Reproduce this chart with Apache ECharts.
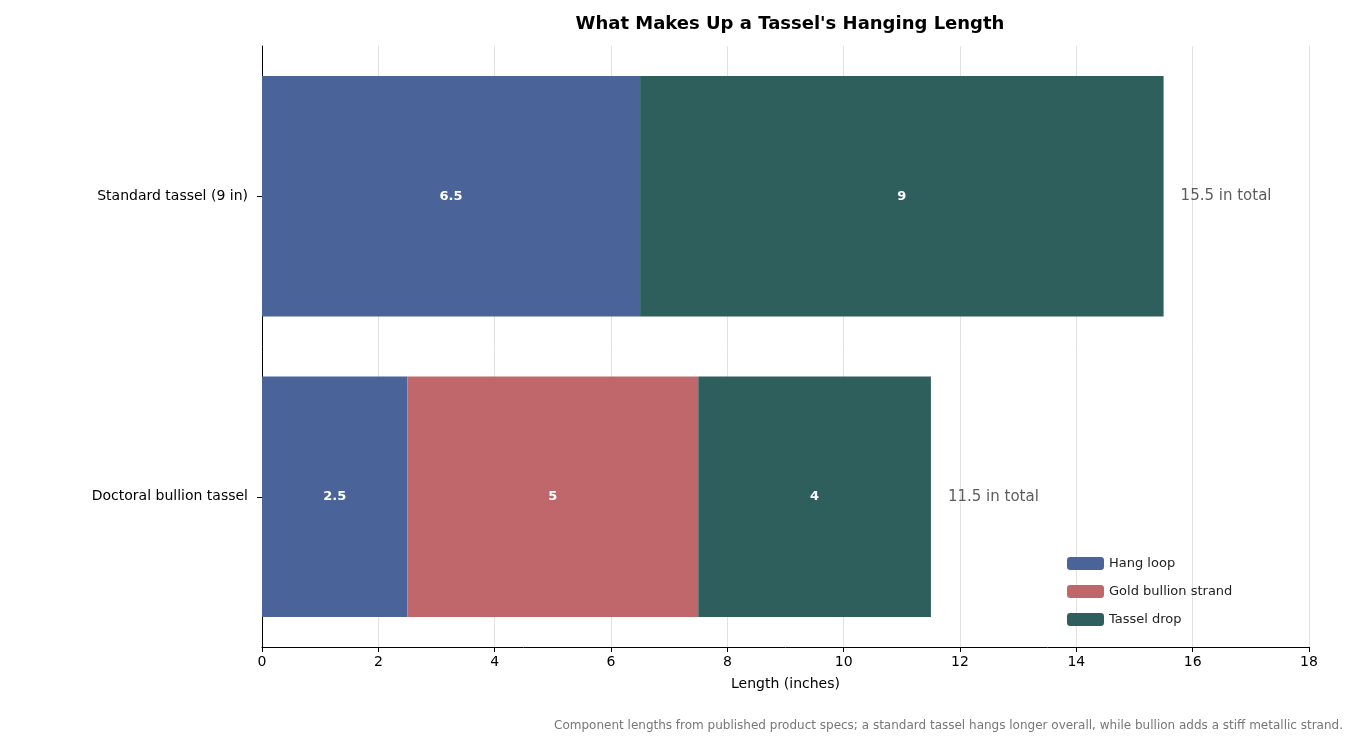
<!DOCTYPE html>
<html><head><meta charset="utf-8">
<script src="https://cdn.jsdelivr.net/npm/echarts@6/dist/echarts.min.js"></script>
<style>html,body{margin:0;padding:0;background:#fff}#c{width:1362px;height:748px}</style>
</head><body><div id="c"></div>
<script>
const categories = ['Doctoral bullion tassel', 'Standard tassel (9 in)'];
const hangLoop = [2.5, 6.5];
const goldStrand = [5, null];
const tasselDrop = [4, 9];
const totals = [11.5, 15.5];
const xTicks = [0, 2, 4, 6, 8, 10, 12, 14, 16, 18];

const chart = echarts.init(document.getElementById('c'));
const inLabel = {show: true, position: 'inside', color: '#fff', fontWeight: 'bold', fontSize: 13, fontFamily: 'DejaVu Sans'};
chart.setOption({
  animation: false,
  textStyle: {fontFamily: 'DejaVu Sans'},
  title: [{text: "What Makes Up a Tassel's Hanging Length", left: 785, top: 10, textAlign: 'center',
    textStyle: {fontSize: 18, fontWeight: 'bold', color: '#000', fontFamily: 'DejaVu Sans'}},
    {text: 'Component lengths from published product specs; a standard tassel hangs longer overall, while bullion adds a stiff metallic strand.',
    right: 14, top: 715, textStyle: {fontSize: 12, fontWeight: 'normal', color: '#777', fontFamily: 'DejaVu Sans'}}],
  grid: {left: 262, right: 53, top: 46, bottom: 101},
  legend: {orient: 'vertical', left: 1062, top: 552, itemWidth: 37, itemHeight: 13, itemGap: 15,
    data: ['Hang loop', 'Gold bullion strand', 'Tassel drop'],
    textStyle: {fontSize: 13, color: '#222'}},
  xAxis: {type: 'value', min: 0, max: 18, interval: 2,
    name: 'Length (inches)', nameLocation: 'middle', nameGap: 30, nameTextStyle: {fontSize: 14, color: '#000'},
    axisLine: {show: true, lineStyle: {color: '#000'}}, axisTick: {show: true, length: 5, lineStyle: {color: '#000'}},
    axisLabel: {fontSize: 14, color: '#000', formatter: v => xTicks.includes(v) ? String(v) : ''},
    splitLine: {show: true, lineStyle: {color: '#e2e2e2'}}},
  yAxis: {type: 'category', data: categories,
    axisLine: {show: true, lineStyle: {color: '#000'}}, axisTick: {show: true, length: 5, alignWithLabel: true, lineStyle: {color: '#000'}},
    axisLabel: {fontSize: 14, color: '#000', margin: 14}},
  series: [
    {name: 'Hang loop', type: 'bar', stack: 's', data: hangLoop, barCategoryGap: '20%', itemStyle: {color: '#4a649a'}, label: inLabel},
    {name: 'Gold bullion strand', type: 'bar', stack: 's', data: goldStrand, itemStyle: {color: '#c0676b'}, label: inLabel},
    {name: 'Tassel drop', type: 'bar', stack: 's', data: tasselDrop, itemStyle: {color: '#2e5f5c'}, label: inLabel},
    {name: 'total', type: 'scatter', symbolSize: 0, data: totals.map((t, i) => [t, i]), silent: true,
      label: {show: true, position: 'right', distance: 17, fontSize: 15, color: '#333', formatter: p => p.value[0] + ' in total'}}
  ]
});
</script></body></html>
